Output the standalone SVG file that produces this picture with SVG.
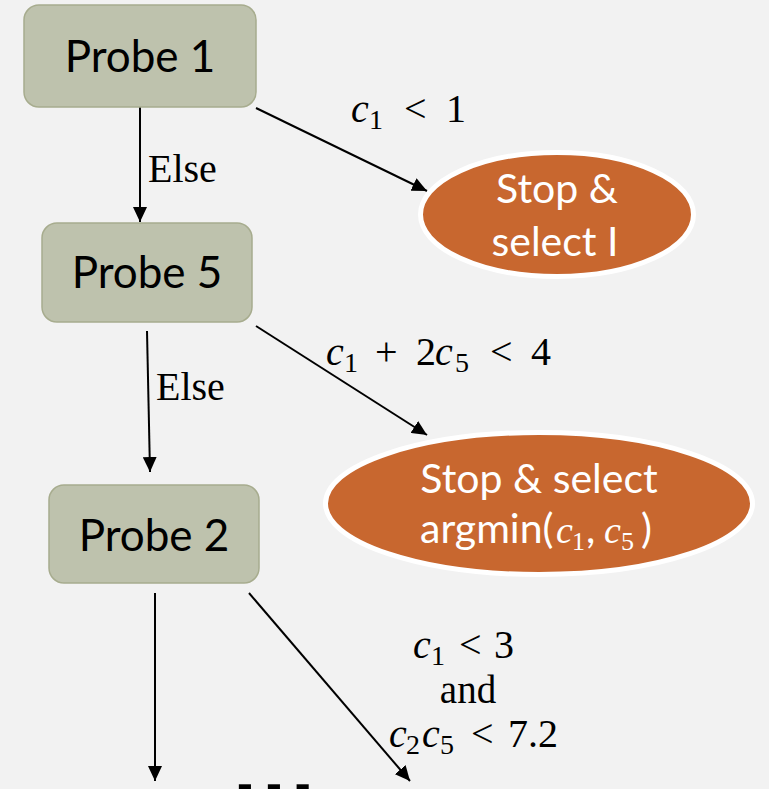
<svg xmlns="http://www.w3.org/2000/svg" width="769" height="789" viewBox="0 0 769 789">
<defs>
<marker id="arr" markerUnits="userSpaceOnUse" markerWidth="16" markerHeight="14" refX="15" refY="7" orient="auto">
<path d="M0,0 L15,7 L0,14 Z" fill="#000"/>
</marker>
<style>
.box{fill:#BEC2AD;stroke:#A7AC8E;stroke-width:1.5}
.btxt{font-family:Lato,"Open Sans",sans-serif;font-size:44px;fill:#000;text-anchor:middle}
.stop{fill:#C8672F;stroke:#FFFFFF;stroke-width:5}
.stxt{font-family:Lato,"Open Sans",sans-serif;font-size:41px;fill:#FFFFFF}
.edge{stroke:#000;stroke-width:2;fill:none;marker-end:url(#arr)}
.m{font-family:"Liberation Serif","Times New Roman",serif;font-size:40px;fill:#000}
.mi{font-style:italic}
.sub{font-size:28px}
.lbl{font-family:"Liberation Serif","Times New Roman",serif;font-size:40px;fill:#000}
.ms{font-family:"Liberation Serif","Times New Roman",serif}
</style>
</defs>
<rect width="769" height="789" fill="#F2F2F2"/>

<g id="connectors">
<line class="edge" x1="140" y1="107" x2="140" y2="222"/>
<line class="edge" x1="256" y1="108" x2="427" y2="191"/>
<line class="edge" x1="147" y1="331" x2="150" y2="472"/>
<line class="edge" x1="256" y1="326" x2="427" y2="435"/>
<line class="edge" x1="155" y1="593" x2="155" y2="781"/>
<line class="edge" x1="249" y1="593" x2="410" y2="781"/>
</g>

<g id="edge-labels">
<text class="lbl" x="148" y="182">Else</text>
<text class="lbl" x="156" y="400">Else</text>
<text class="m"><tspan class="mi" x="351" y="122">c</tspan><tspan class="sub" x="369" y="129">1</tspan><tspan x="404" y="122">&lt;</tspan><tspan x="446" y="122">1</tspan></text>
<text class="m"><tspan class="mi" x="326" y="365">c</tspan><tspan class="sub" x="344" y="372">1</tspan><tspan x="375" y="365">+</tspan><tspan x="416" y="365">2</tspan><tspan class="mi" x="435" y="365">c</tspan><tspan class="sub" x="455" y="372">5</tspan><tspan x="490" y="365">&lt;</tspan><tspan x="531" y="365">4</tspan></text>
<text class="m"><tspan class="mi" x="413" y="658">c</tspan><tspan class="sub" x="431" y="665">1</tspan><tspan x="459" y="658">&lt;</tspan><tspan x="494" y="658">3</tspan></text>
<text class="m" x="468" y="703" text-anchor="middle" style="font-size:39px">and</text>
<text class="m"><tspan class="mi" x="389" y="747">c</tspan><tspan class="sub" x="406" y="754">2</tspan><tspan class="mi" x="422" y="747">c</tspan><tspan class="sub" x="440" y="754">5</tspan><tspan x="471" y="747">&lt;</tspan><tspan x="508" y="747">7.2</tspan></text>
</g>

<g id="probe1">
<rect class="box" x="24" y="5" width="232" height="102" rx="15"/>
<text class="btxt" x="140" y="72">Probe 1</text>
</g>
<g id="probe5">
<rect class="box" x="42" y="223" width="210" height="99" rx="15"/>
<text class="btxt" x="147" y="288">Probe 5</text>
</g>
<g id="probe2">
<rect class="box" x="49" y="485" width="210" height="98" rx="15"/>
<text class="btxt" x="154" y="551">Probe 2</text>
</g>

<g id="stop1">
<ellipse class="stop" cx="557" cy="214.5" rx="136.5" ry="62"/>
<text class="stxt" text-anchor="middle"><tspan x="557" y="203">Stop &amp;</tspan><tspan x="555" y="256">select I</tspan></text>
</g>
<g id="stop2">
<ellipse class="stop" cx="539" cy="503.5" rx="213.5" ry="71"/>
<text class="stxt" x="539" y="493" text-anchor="middle">Stop &amp; select</text>
<text class="stxt"><tspan x="420" y="543">argmin(</tspan><tspan class="mi ms" x="556" y="543" style="font-size:38px">c</tspan><tspan class="ms" x="572" y="550" style="font-size:26px">1</tspan><tspan x="586" y="543">,</tspan><tspan class="mi ms" x="604" y="543" style="font-size:38px">c</tspan><tspan class="ms" x="621" y="550" style="font-size:26px">5</tspan><tspan x="641" y="543">)</tspan></text>
</g>

<g id="more">
<text x="233" y="797" style="font-family:'Liberation Sans',sans-serif;font-weight:bold;font-size:86px;letter-spacing:5px;fill:#000">...</text>
</g>
</svg>
